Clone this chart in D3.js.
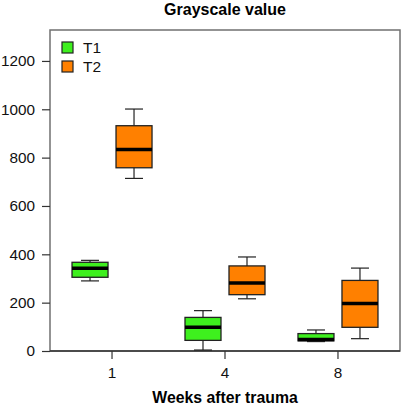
<!DOCTYPE html>
<html>
<head>
<meta charset="utf-8">
<script src="https://cdn.jsdelivr.net/npm/d3@7"></script>
<style>
  body { margin: 0; background: #fff; }
  svg { display: block; font-family: "Liberation Sans", Arial, Helvetica, sans-serif; }
</style>
</head>
<body>
<svg id="chart" width="402" height="408"></svg>
<script>
// ---- data ----
const weeks = ["1", "4", "8"];
const series = ["T1", "T2"];
const yTicks = [0, 200, 400, 600, 800, 1000, 1200];
// box stats per week: [whiskerLow, q1, median, q3, whiskerHigh]
const t1Stats = [
  [290, 305, 342, 367, 375],
  [4, 44, 98, 139, 167],
  [39, 42, 48, 72, 87]
];
const t2Stats = [
  [714, 758, 834, 932, 1001],
  [216, 233, 281, 352, 389],
  [51, 98, 196, 292, 343]
];
const colors = { T1: "#3ef01e", T2: "#ff8000" };
const titleText = "Grayscale value";
const xLabelText = "Weeks after trauma";

// ---- layout ----
const svg = d3.select("#chart");
const L = 50, R = 400, T = 30, B = 351;
const frameColor = "#707070";

const x = d3.scaleBand().domain(weeks).range([L, R]).paddingInner(0).paddingOuter(0.049);
const y = d3.scaleLinear().domain([0, 1328]).range([B, T]);
const offset = { T1: -22, T2: 22 };
const boxW = 36, capW = 18;

// title
svg.append("text").attr("x", 225).attr("y", 15).attr("text-anchor", "middle")
  .attr("font-weight", "bold").attr("font-size", 16).text(titleText);

// frame
svg.append("rect").attr("x", L).attr("y", T).attr("width", R - L).attr("height", B - T)
  .attr("fill", "none").attr("stroke", frameColor).attr("stroke-width", 1.5);

// y axis
const yAxis = d3.axisLeft(y).tickValues(yTicks).tickSize(8).tickPadding(7).tickFormat(d3.format("d"));
const gy = svg.append("g").attr("transform", `translate(${L},0)`).call(yAxis);
gy.select(".domain").remove();
gy.selectAll("line").attr("stroke", "#333").attr("stroke-width", 1.2);
gy.selectAll("text").attr("font-size", 15.3).attr("fill", "#111").attr("font-family", "Liberation Sans, Arial, sans-serif");

// x axis
const xAxis = d3.axisBottom(x).tickSize(8).tickPadding(8);
const gx = svg.append("g").attr("transform", `translate(0,${B})`).call(xAxis);
gx.select(".domain").remove();
gx.selectAll("line").attr("stroke", "#333").attr("stroke-width", 1.2);
gx.selectAll("text").attr("font-size", 15.3).attr("fill", "#111").attr("font-family", "Liberation Sans, Arial, sans-serif");

// bottom axis line
svg.append("line").attr("x1", L).attr("x2", R).attr("y1", B).attr("y2", B)
  .attr("stroke", "#333").attr("stroke-width", 1.5);

// x label
svg.append("text").attr("x", 225).attr("y", 403).attr("text-anchor", "middle")
  .attr("font-weight", "bold").attr("font-size", 15.8).text(xLabelText);

// boxes
const boxes = [];
weeks.forEach((w, i) => {
  boxes.push({ week: w, s: "T1", st: t1Stats[i] });
  boxes.push({ week: w, s: "T2", st: t2Stats[i] });
});
const g = svg.append("g");
boxes.forEach(b => {
  const cx = x(b.week) + x.bandwidth() / 2 + offset[b.s];
  const [lo, q1, med, q3, hi] = b.st;
  const gg = g.append("g");
  gg.append("line").attr("x1", cx).attr("x2", cx).attr("y1", y(hi)).attr("y2", y(q3)).attr("stroke", "#222").attr("stroke-width", 1.2);
  gg.append("line").attr("x1", cx).attr("x2", cx).attr("y1", y(q1)).attr("y2", y(lo)).attr("stroke", "#222").attr("stroke-width", 1.2);
  gg.append("line").attr("x1", cx - capW / 2).attr("x2", cx + capW / 2).attr("y1", y(hi)).attr("y2", y(hi)).attr("stroke", "#222").attr("stroke-width", 1.2);
  gg.append("line").attr("x1", cx - capW / 2).attr("x2", cx + capW / 2).attr("y1", y(lo)).attr("y2", y(lo)).attr("stroke", "#222").attr("stroke-width", 1.2);
  gg.append("rect").attr("x", cx - boxW / 2).attr("y", y(q3)).attr("width", boxW).attr("height", y(q1) - y(q3))
    .attr("fill", colors[b.s]).attr("stroke", "#222").attr("stroke-width", 1.3);
  gg.append("line").attr("x1", cx - boxW / 2).attr("x2", cx + boxW / 2).attr("y1", y(med)).attr("y2", y(med))
    .attr("stroke", "#000").attr("stroke-width", 3.5);
});

// legend
const leg = svg.append("g");
series.forEach((s, i) => {
  const yy = 42 + i * 19;
  leg.append("rect").attr("x", 62).attr("y", yy).attr("width", 11).attr("height", 11)
    .attr("fill", colors[s]).attr("stroke", "#222").attr("stroke-width", 1.2);
  leg.append("text").attr("x", 83).attr("y", yy + 11).attr("font-size", 15.5).attr("fill", "#111").text(s);
});
</script>
</body>
</html>
